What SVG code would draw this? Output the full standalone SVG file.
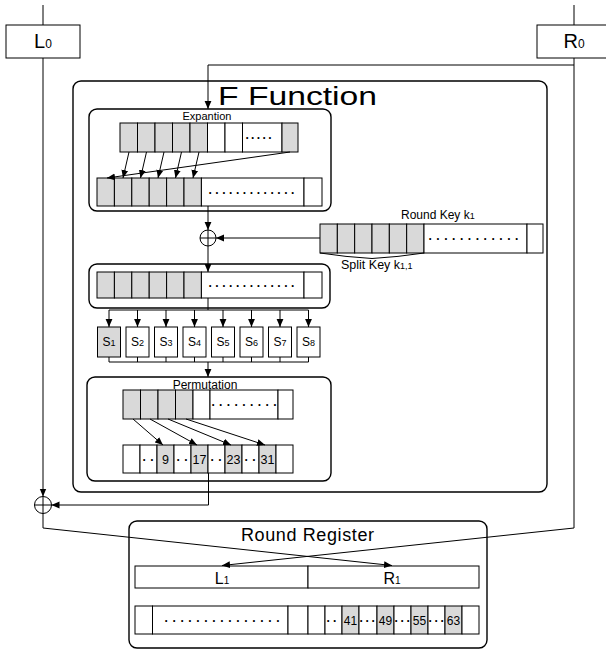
<svg xmlns="http://www.w3.org/2000/svg" width="606" height="650" viewBox="0 0 606 650">
<defs>
<marker id="ah" markerWidth="8" markerHeight="8" refX="8" refY="4" orient="auto" markerUnits="userSpaceOnUse"><path d="M0,0.6 L8,4 L0,7.4 z" fill="#000"/></marker>
<style>
.t{font-family:"Liberation Sans",Arial,sans-serif;fill:#000}
.c{text-anchor:middle}
.box{fill:#fff;stroke:#000;stroke-width:1}
.rbox{fill:#fff;stroke:#000;stroke-width:1.4}
.frame{fill:none;stroke:#000;stroke-width:1.4}
.g{fill:#d9d9d9;stroke:#000;stroke-width:1}
.w{fill:#fff;stroke:#000;stroke-width:1}
.ln{fill:none;stroke:#000;stroke-width:1}
.ar{fill:none;stroke:#000;stroke-width:1;marker-end:url(#ah)}
.dots{font-family:"Liberation Sans",Arial,sans-serif;font-weight:bold;font-size:12px;fill:#000}
</style>
</defs>
<rect width="606" height="650" fill="#fff"/>

<g id="L0">
<rect class="box" x="6" y="25" width="74" height="33"/>
<text class="t c" x="43" y="48" font-size="20">L<tspan font-size="12">0</tspan></text>
</g>
<g id="R0">
<rect class="box" x="537" y="25" width="75" height="33"/>
<text class="t c" x="574" y="48" font-size="20">R<tspan font-size="12">0</tspan></text>
</g>

<g id="f-function">
<rect class="frame" x="73" y="81" width="474" height="411" rx="8"/>
<text class="t" x="218" y="105" font-size="25" textLength="159" lengthAdjust="spacingAndGlyphs">F Function</text>
</g>

<g id="expansion">
<rect class="rbox" x="89" y="109" width="242" height="102" rx="8"/>
<text class="t c" x="207" y="120" font-size="11">Expantion</text>
<rect class="g" x="120" y="123" width="17.5" height="29"/>
<rect class="g" x="137.5" y="123" width="17.5" height="29"/>
<rect class="g" x="155" y="123" width="17.5" height="29"/>
<rect class="g" x="172.5" y="123" width="17.5" height="29"/>
<rect class="g" x="190" y="123" width="17.5" height="29"/>
<rect class="w" x="207.5" y="123" width="17.5" height="29"/>
<rect class="w" x="225" y="123" width="17.5" height="29"/>
<rect class="w" x="242.5" y="123" width="39.5" height="29"/>
<rect class="g" x="282" y="123" width="16" height="29"/>
<text class="dots" x="245.4" y="139" letter-spacing="2.4">.....</text>
<rect class="g" x="97" y="178" width="17.4" height="28"/>
<rect class="g" x="114.4" y="178" width="17.4" height="28"/>
<rect class="g" x="131.8" y="178" width="17.4" height="28"/>
<rect class="g" x="149.2" y="178" width="17.4" height="28"/>
<rect class="g" x="166.6" y="178" width="17.4" height="28"/>
<rect class="g" x="184" y="178" width="17.4" height="28"/>
<rect class="w" x="201.4" y="178" width="102.6" height="28"/>
<rect class="w" x="304" y="178" width="18" height="28"/>
<text class="dots" x="208.4" y="193.5" letter-spacing="3.56">.............</text>
</g>

<g id="xor1">
<circle cx="208" cy="238" r="8" fill="#fff" stroke="#000" stroke-width="1"/>
<path class="ln" d="M200,238 H216 M208,230 V246"/>
</g>

<g id="round-key">
<text class="t" x="401" y="219" font-size="12">Round Key k<tspan font-size="9">1</tspan></text>
<rect class="g" x="320" y="224" width="17.33" height="29"/>
<rect class="g" x="337.33" y="224" width="17.33" height="29"/>
<rect class="g" x="354.67" y="224" width="17.33" height="29"/>
<rect class="g" x="372" y="224" width="17.33" height="29"/>
<rect class="g" x="389.33" y="224" width="17.33" height="29"/>
<rect class="g" x="406.67" y="224" width="17.33" height="29"/>
<rect class="w" x="424" y="224" width="103" height="29"/>
<rect class="w" x="527" y="224" width="16" height="29"/>
<text class="dots" x="428.4" y="240" letter-spacing="4.55">............</text>
<path class="ln" d="M320,253 Q346,257 372,258.5 Q398,257 424,253"/>
<text class="t" x="341" y="269" font-size="12.5">Split Key k<tspan font-size="9">1,1</tspan></text>
</g>

<g id="key-mix">
<rect class="rbox" x="89" y="264" width="241" height="44" rx="8"/>
<rect class="g" x="97" y="272" width="17.4" height="26"/>
<rect class="g" x="114.4" y="272" width="17.4" height="26"/>
<rect class="g" x="131.8" y="272" width="17.4" height="26"/>
<rect class="g" x="149.2" y="272" width="17.4" height="26"/>
<rect class="g" x="166.6" y="272" width="17.4" height="26"/>
<rect class="g" x="184" y="272" width="17.4" height="26"/>
<rect class="w" x="201.4" y="272" width="102.6" height="26"/>
<rect class="w" x="304" y="272" width="18" height="26"/>
<text class="dots" x="208.4" y="286.5" letter-spacing="3.56">.............</text>
</g>

<g id="sboxes">
<g id="S1"><rect class="g" x="97.5" y="327" width="23" height="30"/><text class="t c" x="109" y="346" font-size="12">S<tspan font-size="9">1</tspan></text></g>
<g id="S2"><rect class="w" x="126" y="327" width="23" height="30"/><text class="t c" x="137.5" y="346" font-size="12">S<tspan font-size="9">2</tspan></text></g>
<g id="S3"><rect class="w" x="154.5" y="327" width="23" height="30"/><text class="t c" x="166" y="346" font-size="12">S<tspan font-size="9">3</tspan></text></g>
<g id="S4"><rect class="w" x="183" y="327" width="23" height="30"/><text class="t c" x="194.5" y="346" font-size="12">S<tspan font-size="9">4</tspan></text></g>
<g id="S5"><rect class="w" x="211.5" y="327" width="23" height="30"/><text class="t c" x="223" y="346" font-size="12">S<tspan font-size="9">5</tspan></text></g>
<g id="S6"><rect class="w" x="240" y="327" width="23" height="30"/><text class="t c" x="251.5" y="346" font-size="12">S<tspan font-size="9">6</tspan></text></g>
<g id="S7"><rect class="w" x="268.5" y="327" width="23" height="30"/><text class="t c" x="280" y="346" font-size="12">S<tspan font-size="9">7</tspan></text></g>
<g id="S8"><rect class="w" x="297" y="327" width="23" height="30" stroke-width="2"/><text class="t c" x="308.5" y="346" font-size="12">S<tspan font-size="9">8</tspan></text></g>
</g>

<g id="permutation">
<rect class="rbox" x="87" y="377" width="244" height="104" rx="8"/>
<text class="t c" x="205" y="389" font-size="12">Permutation</text>
<rect class="g" x="123" y="390" width="17.5" height="29"/>
<rect class="g" x="140.5" y="390" width="17.5" height="29"/>
<rect class="g" x="158" y="390" width="17.5" height="29"/>
<rect class="g" x="175.5" y="390" width="17.5" height="29"/>
<rect class="w" x="193" y="390" width="17" height="29"/>
<rect class="w" x="210" y="390" width="68" height="29"/>
<rect class="w" x="278" y="390" width="15" height="29"/>
<text class="dots" x="211.4" y="406" letter-spacing="4.4">.........</text>
<rect class="w" x="123" y="445" width="17" height="28"/>
<rect class="w" x="140" y="445" width="17" height="28"/>
<rect class="g" x="157" y="445" width="17" height="28"/>
<rect class="w" x="174" y="445" width="17" height="28"/>
<rect class="g" x="191" y="445" width="17" height="28"/>
<rect class="w" x="208" y="445" width="17" height="28"/>
<rect class="g" x="225" y="445" width="17" height="28"/>
<rect class="w" x="242" y="445" width="17" height="28"/>
<rect class="g" x="259" y="445" width="17" height="28"/>
<rect class="w" x="276" y="445" width="17" height="28"/>
<text class="dots" x="142.4" y="460.5" letter-spacing="4.6">..</text>
<text class="dots" x="176.4" y="460.5" letter-spacing="4.6">..</text>
<text class="dots" x="210.4" y="460.5" letter-spacing="4.6">..</text>
<text class="dots" x="244.4" y="460.5" letter-spacing="4.6">..</text>
<text class="t c" x="165.5" y="464" font-size="12.5">9</text>
<text class="t c" x="199.5" y="464" font-size="12.5">17</text>
<text class="t c" x="233.5" y="464" font-size="12.5">23</text>
<text class="t c" x="267.5" y="464" font-size="12.5">31</text>
</g>

<g id="xor2">
<circle cx="43" cy="505" r="8.5" fill="#fff" stroke="#000" stroke-width="1"/>
<path class="ln" d="M34.5,505 H51.5 M43,496.5 V513.5"/>
</g>

<g id="round-register">
<rect class="rbox" x="129" y="521" width="358" height="127" rx="8"/>
<text class="t" x="241" y="541" font-size="18" textLength="133" lengthAdjust="spacing">Round Register</text>
<rect class="w" x="135" y="566" width="173" height="22"/>
<rect class="w" x="308" y="566" width="171" height="22"/>
<text class="t c" x="222" y="584" font-size="16">L<tspan font-size="10">1</tspan></text>
<text class="t c" x="392" y="584" font-size="16">R<tspan font-size="10">1</tspan></text>
<rect class="w" x="135" y="606" width="17.5" height="28"/>
<rect class="w" x="152.5" y="606" width="135.5" height="28"/>
<rect class="w" x="288" y="606" width="20" height="28"/>
<rect class="w" x="308" y="606" width="17" height="28"/>
<rect class="w" x="325" y="606" width="17" height="28"/>
<rect class="g" x="342" y="606" width="17" height="28"/>
<rect class="w" x="359" y="606" width="18" height="28"/>
<rect class="g" x="377" y="606" width="17" height="28"/>
<rect class="w" x="394" y="606" width="17" height="28"/>
<rect class="g" x="411" y="606" width="17" height="28"/>
<rect class="w" x="428" y="606" width="17" height="28"/>
<rect class="g" x="445" y="606" width="17" height="28"/>
<rect class="w" x="462" y="606" width="17" height="28"/>
<text class="dots" x="164.4" y="621.5" letter-spacing="4.66">...............</text>
<text class="dots" x="326.4" y="621.5" letter-spacing="3.3">..</text>
<text class="dots" x="359.6" y="621.5" letter-spacing="2.6">...</text>
<text class="dots" x="394.6" y="621.5" letter-spacing="2.6">...</text>
<text class="dots" x="428.6" y="621.5" letter-spacing="2.6">...</text>
<text class="t c" x="350.5" y="624.5" font-size="12">41</text>
<text class="t c" x="385.5" y="624.5" font-size="12">49</text>
<text class="t c" x="419.5" y="624.5" font-size="12">55</text>
<text class="t c" x="453.5" y="624.5" font-size="12">63</text>
</g>

<g id="connectors">
<line class="ln" x1="43" y1="5" x2="43" y2="25"/>
<line class="ln" x1="574" y1="5" x2="574" y2="25"/>
<path class="ar" d="M43,58 V496.5"/>
<path class="ar" d="M574,65 H208 V109"/>
<path class="ar" d="M43,513.5 V528 L392,565.5"/>
<path class="ar" d="M574,58 V528 L222,565.5"/>
<path class="ar" d="M208.5,473 V505 H51.5"/>
<path class="ar" d="M208,206 V230"/>
<path class="ar" d="M208,246 V272"/>
<path class="ar" d="M320,238 H216"/>
<path class="ar" d="M129,152 L123,178"/>
<path class="ar" d="M146.5,152 L140.5,178"/>
<path class="ar" d="M164,152 L158,178"/>
<path class="ar" d="M181.5,152 L175.5,178"/>
<path class="ar" d="M199,152 L193,178"/>
<path class="ar" d="M290,152 L107,178"/>
<path class="ln" d="M208,298 V310 M109,310 H308.5"/>
<path class="ar" d="M109,310 V327"/>
<path class="ar" d="M137.5,310 V327"/>
<path class="ar" d="M166,310 V327"/>
<path class="ar" d="M194.5,310 V327"/>
<path class="ar" d="M223,310 V327"/>
<path class="ar" d="M251.5,310 V327"/>
<path class="ar" d="M280,310 V327"/>
<path class="ar" d="M308.5,310 V327"/>
<path class="ln" d="M109,357 V362 M137.5,357 V362 M166,357 V362 M194.5,357 V362 M223,357 V362 M251.5,357 V362 M280,357 V362 M308.5,357 V362 M109,362 H308.5"/>
<path class="ar" d="M208,362 V377"/>
<path class="ar" d="M133,419 L163,445"/>
<path class="ar" d="M150,419 L197,445"/>
<path class="ar" d="M168,419 L231,445"/>
<path class="ar" d="M186,419 L265,445"/>
</g>
</svg>
